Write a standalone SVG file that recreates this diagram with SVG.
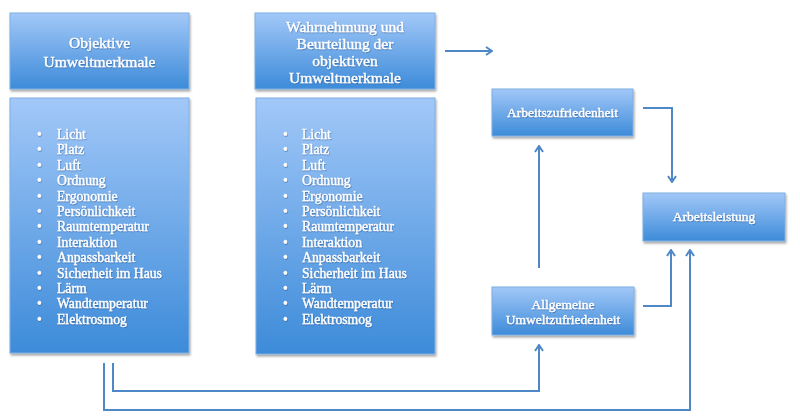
<svg xmlns="http://www.w3.org/2000/svg" width="800" height="419" viewBox="0 0 800 419">
<defs>
<linearGradient id="g" x1="0" y1="0" x2="0" y2="1">
<stop offset="0" stop-color="#a2c8f8"/>
<stop offset="1" stop-color="#3d8bd9"/>
</linearGradient>
<filter id="sh" x="-10%" y="-10%" width="130%" height="130%">
<feDropShadow dx="1" dy="2" stdDeviation="1.2" flood-color="#000" flood-opacity="0.35"/>
</filter>
<filter id="ts" x="-5%" y="-20%" width="110%" height="150%">
<feDropShadow dx="0.5" dy="0.8" stdDeviation="0.5" flood-color="#1a4f8a" flood-opacity="0.6"/>
</filter>
<marker id="ah" viewBox="0 0 10 10" refX="9" refY="5" markerWidth="10" markerHeight="10" markerUnits="userSpaceOnUse" orient="auto">
<polyline points="3,1 9,5 3,9" fill="none" stroke="#4f88c6" stroke-width="2"/>
</marker>
</defs>
<style>
.box{fill:url(#g);stroke:#7eaee2;stroke-width:1;filter:url(#sh)}
.t{font-family:"Liberation Serif","DejaVu Serif",serif;fill:#fff;stroke:#fff;stroke-width:0.35;filter:url(#ts)}
.h{font-size:15.5px;text-anchor:middle}
.s{font-size:13.5px;text-anchor:middle}
.l{font-size:13.7px}
.c{fill:none;stroke:#4f88c6;stroke-width:2}
</style>
<rect width="800" height="419" fill="#fff"/>
<g id="node-objektiv">
<rect class="box" x="10" y="13" width="179" height="76"/>
<text class="t h" x="99.5" y="48">Objektive</text>
<text class="t h" x="99.5" y="67">Umweltmerkmale</text>
</g>
<g id="node-objektiv-liste">
<rect class="box" x="10" y="98" width="179" height="255"/>
<g class="t l">
<text x="37" y="139">•</text><text x="57" y="139">Licht</text>
<text x="37" y="154.4">•</text><text x="57" y="154.4">Platz</text>
<text x="37" y="169.8">•</text><text x="57" y="169.8">Luft</text>
<text x="37" y="185.2">•</text><text x="57" y="185.2">Ordnung</text>
<text x="37" y="200.6">•</text><text x="57" y="200.6">Ergonomie</text>
<text x="37" y="216">•</text><text x="57" y="216">Persönlichkeit</text>
<text x="37" y="231.4">•</text><text x="57" y="231.4">Raumtemperatur</text>
<text x="37" y="246.8">•</text><text x="57" y="246.8">Interaktion</text>
<text x="37" y="262.2">•</text><text x="57" y="262.2">Anpassbarkeit</text>
<text x="37" y="277.6">•</text><text x="57" y="277.6">Sicherheit im Haus</text>
<text x="37" y="293">•</text><text x="57" y="293">Lärm</text>
<text x="37" y="308.4">•</text><text x="57" y="308.4">Wandtemperatur</text>
<text x="37" y="323.8">•</text><text x="57" y="323.8">Elektrosmog</text>
</g>
</g>
<g id="node-wahrnehmung">
<rect class="box" x="255" y="13" width="180" height="76"/>
<text class="t h" x="345" y="32">Wahrnehmung und</text>
<text class="t h" x="345" y="49">Beurteilung der</text>
<text class="t h" x="345" y="66">objektiven</text>
<text class="t h" x="345" y="83">Umweltmerkmale</text>
</g>
<g id="node-wahrnehmung-liste">
<rect class="box" x="256" y="98" width="179" height="256"/>
<g class="t l">
<text x="283" y="139">•</text><text x="302" y="139">Licht</text>
<text x="283" y="154.4">•</text><text x="302" y="154.4">Platz</text>
<text x="283" y="169.8">•</text><text x="302" y="169.8">Luft</text>
<text x="283" y="185.2">•</text><text x="302" y="185.2">Ordnung</text>
<text x="283" y="200.6">•</text><text x="302" y="200.6">Ergonomie</text>
<text x="283" y="216">•</text><text x="302" y="216">Persönlichkeit</text>
<text x="283" y="231.4">•</text><text x="302" y="231.4">Raumtemperatur</text>
<text x="283" y="246.8">•</text><text x="302" y="246.8">Interaktion</text>
<text x="283" y="262.2">•</text><text x="302" y="262.2">Anpassbarkeit</text>
<text x="283" y="277.6">•</text><text x="302" y="277.6">Sicherheit im Haus</text>
<text x="283" y="293">•</text><text x="302" y="293">Lärm</text>
<text x="283" y="308.4">•</text><text x="302" y="308.4">Wandtemperatur</text>
<text x="283" y="323.8">•</text><text x="302" y="323.8">Elektrosmog</text>
</g>
</g>
<g id="node-arbeitszufriedenheit">
<rect class="box" x="492" y="89" width="141" height="47"/>
<text class="t s" x="562.5" y="117">Arbeitszufriedenheit</text>
</g>
<g id="node-arbeitsleistung">
<rect class="box" x="643" y="193" width="142" height="48"/>
<text class="t s" x="714" y="221">Arbeitsleistung</text>
</g>
<g id="node-allgemeine">
<rect class="box" x="492" y="287" width="142" height="48"/>
<text class="t s" x="563" y="309">Allgemeine</text>
<text class="t s" x="563" y="324">Umweltzufriedenheit</text>
</g>
<g id="connectors">
<path class="c" d="M445,51 H492" marker-end="url(#ah)"/>
<path class="c" d="M643,108 H672 V182" marker-end="url(#ah)"/>
<path class="c" d="M539,268 V146" marker-end="url(#ah)"/>
<path class="c" d="M643,306 H671 V250" marker-end="url(#ah)"/>
<path class="c" d="M113,363 V391 H539 V345" marker-end="url(#ah)"/>
<path class="c" d="M104,363 V410 H690 V250" marker-end="url(#ah)"/>
</g>
</svg>
